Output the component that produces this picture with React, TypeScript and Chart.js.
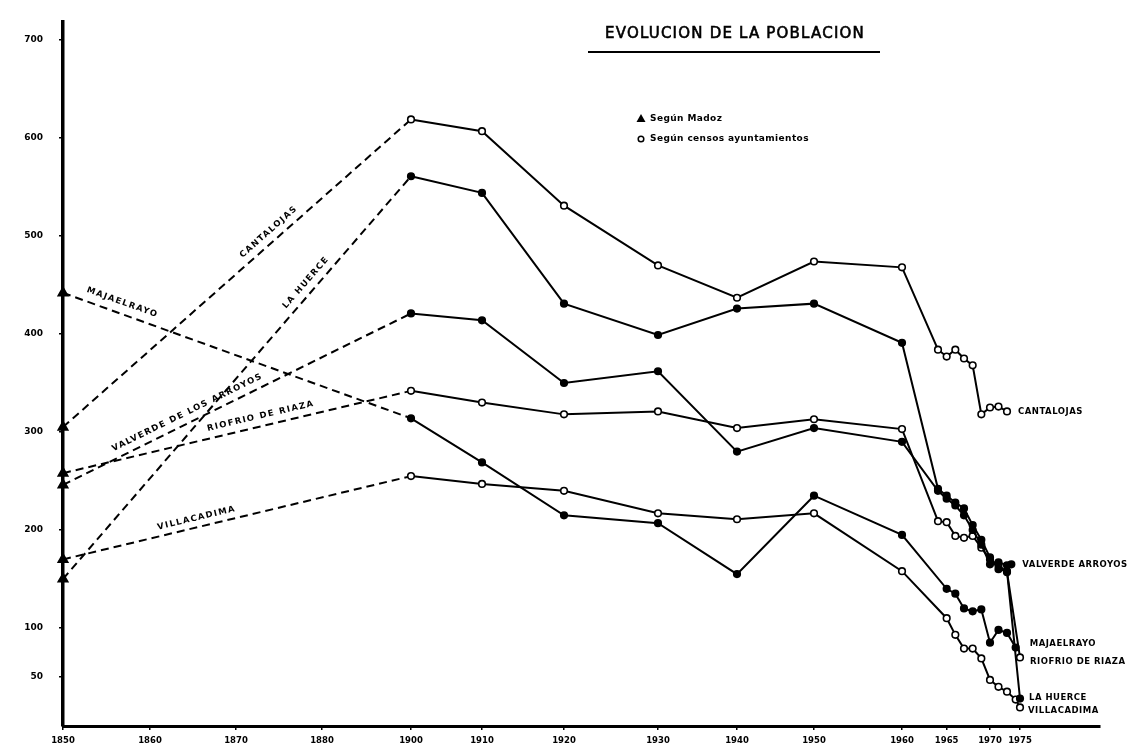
import React, { useEffect, useRef } from 'react';
import { Chart, LinearScale, registerables } from 'chart.js';

Chart.register(...registerables);

// ---------- axis ticks ----------
const X_TICK_YEARS = [1850, 1860, 1870, 1880, 1900, 1910, 1920, 1930, 1940, 1950, 1960, 1965, 1970, 1975];
const Y_TICKS = [50, 100, 200, 300, 400, 500, 600, 700];

// ---------- data (population) ----------
const CANTALOJAS_YEARS = [1850, 1900, 1910, 1920, 1930, 1940, 1950, 1960, 1964, 1965, 1966, 1967, 1968, 1969, 1970, 1971, 1972];
const CANTALOJAS_POP = [305, 619, 607, 531, 470, 437, 474, 468, 384, 377, 384, 375, 368, 318, 325, 326, 321];

const LA_HUERCE_YEARS = [1850, 1900, 1910, 1920, 1930, 1940, 1950, 1960, 1964, 1965, 1966, 1967, 1968, 1969, 1970, 1971, 1972, 1975];
const LA_HUERCE_POP = [150, 561, 544, 431, 399, 426, 431, 391, 242, 235, 228, 222, 205, 190, 172, 160, 158, 28];

const VALVERDE_YEARS = [1850, 1900, 1910, 1920, 1930, 1940, 1950, 1960, 1964, 1965, 1966, 1967, 1968, 1969, 1970, 1971, 1972, 1973];
const VALVERDE_POP = [246, 421, 414, 350, 362, 280, 304, 290, 240, 232, 225, 215, 200, 185, 165, 167, 164, 165];

const RIOFRIO_YEARS = [1850, 1900, 1910, 1920, 1930, 1940, 1950, 1960, 1964, 1965, 1966, 1967, 1968, 1969, 1970, 1971, 1972, 1975];
const RIOFRIO_POP = [258, 342, 330, 318, 321, 304, 313, 303, 209, 208, 194, 192, 194, 182, 170, 164, 157, 70];

const MAJAELRAYO_YEARS = [1850, 1900, 1910, 1920, 1930, 1940, 1950, 1960, 1965, 1966, 1967, 1968, 1969, 1970, 1971, 1972, 1974];
const MAJAELRAYO_POP = [442, 314, 269, 215, 207, 155, 235, 195, 140, 135, 120, 117, 119, 85, 98, 95, 80];

const VILLACADIMA_YEARS = [1850, 1900, 1910, 1920, 1930, 1940, 1950, 1960, 1965, 1966, 1967, 1968, 1969, 1970, 1971, 1972, 1974, 1975];
const VILLACADIMA_POP = [170, 255, 247, 240, 217, 211, 217, 158, 110, 93, 79, 79, 69, 47, 40, 35, 27, 19];

// ---------- hand-drawn (non-uniform) time axis spacing ----------
const WARP_YEARS = [1850, 1860, 1870, 1880, 1900, 1910, 1920, 1930, 1940, 1950, 1960, 1964, 1970, 1972, 1975, 1990];
const WARP_UNITS = [0, 87, 173, 259, 348, 419, 501, 595, 674, 751, 839, 875, 927, 944, 957, 1037];

function interp(v: number, from: number[], to: number[]) {
  const n = from.length;
  let i = 1;
  while (i < n - 1 && v > from[i]) i++;
  const f = (v - from[i - 1]) / (from[i] - from[i - 1]);
  return to[i - 1] + f * (to[i] - to[i - 1]);
}
const TOTAL = WARP_UNITS[WARP_UNITS.length - 1];

class HandYearScale extends (LinearScale as any) {
  static id = 'handYear';
  static defaults = {};
  buildTicks() {
    return X_TICK_YEARS.map((v) => ({ value: v }));
  }
  getPixelForValue(value: number) {
    return (this as any).getPixelForDecimal(interp(value, WARP_YEARS, WARP_UNITS) / TOTAL);
  }
  getValueForPixel(pixel: number) {
    return interp((this as any).getDecimalForPixel(pixel) * TOTAL, WARP_UNITS, WARP_YEARS);
  }
}
Chart.register(HandYearScale as any);

// ---------- series styling ----------
const SERIES = [
  { name: 'CANTALOJAS', years: CANTALOJAS_YEARS, pop: CANTALOJAS_POP, open: true },
  { name: 'LA HUERCE', years: LA_HUERCE_YEARS, pop: LA_HUERCE_POP, open: false },
  { name: 'VALVERDE DE LOS ARROYOS', years: VALVERDE_YEARS, pop: VALVERDE_POP, open: false },
  { name: 'RIOFRIO DE RIAZA', years: RIOFRIO_YEARS, pop: RIOFRIO_POP, open: true },
  { name: 'MAJAELRAYO', years: MAJAELRAYO_YEARS, pop: MAJAELRAYO_POP, open: false },
  { name: 'VILLACADIMA', years: VILLACADIMA_YEARS, pop: VILLACADIMA_POP, open: true },
];

// labels along the dashed (Madoz -> 1900) segments
const DASH_LABELS = [
  { series: 0, text: 'CANTALOJAS', t: 0.61, off: 10 },
  { series: 1, text: 'LA HUERCE', t: 0.72, off: 10 },
  { series: 2, text: 'VALVERDE DE LOS ARROYOS', t: 0.37, off: 10 },
  { series: 3, text: 'RIOFRIO DE RIAZA', t: 0.575, off: 10 },
  { series: 4, text: 'MAJAELRAYO', t: 0.16, off: 11 },
  { series: 5, text: 'VILLACADIMA', t: 0.39, off: 9 },
];

// labels at the end of each line
const END_LABELS = [
  { series: 0, text: 'CANTALOJAS', dx: 11, dy: 0 },
  { series: 2, text: 'VALVERDE ARROYOS', dx: 11, dy: 0 },
  { series: 4, text: 'MAJAELRAYO', dx: 14, dy: -4 },
  { series: 3, text: 'RIOFRIO DE RIAZA', dx: 10, dy: 4 },
  { series: 1, text: 'LA HUERCE', dx: 9, dy: -1 },
  { series: 5, text: 'VILLACADIMA', dx: 8, dy: 3 },
];

const FONT = '"DejaVu Sans", "Liberation Sans", sans-serif';

const annotations = {
  id: 'annotations',
  afterDraw(chart: any) {
    const ctx = chart.ctx as CanvasRenderingContext2D;
    const xs = chart.scales.x;
    const ys = chart.scales.y;
    ctx.save();
    ctx.fillStyle = '#000';
    ctx.strokeStyle = '#000';

    // title
    ctx.font = `15px ${FONT}`;
    (ctx as any).letterSpacing = '1.2px';
    ctx.textAlign = 'center';
    ctx.textBaseline = 'middle';
    ctx.lineWidth = 0.6;
    ctx.fillText('EVOLUCION DE LA POBLACION', 735, 34);
    ctx.strokeText('EVOLUCION DE LA POBLACION', 735, 34);
    ctx.lineWidth = 2.2;
    ctx.beginPath();
    ctx.moveTo(588, 52);
    ctx.lineTo(880, 52);
    ctx.stroke();

    // legend
    (ctx as any).letterSpacing = '0.4px';
    ctx.font = `bold 9px ${FONT}`;
    ctx.textAlign = 'left';
    ctx.beginPath();
    ctx.moveTo(641, 114);
    ctx.lineTo(645.5, 122);
    ctx.lineTo(636.5, 122);
    ctx.closePath();
    ctx.fill();
    ctx.fillText('Según Madoz', 650, 119);
    ctx.lineWidth = 1.5;
    ctx.beginPath();
    ctx.arc(641, 139, 2.8, 0, Math.PI * 2);
    ctx.stroke();
    ctx.fillText('Según censos ayuntamientos', 650, 139);

    // labels along dashed segments
    (ctx as any).letterSpacing = '1.4px';
    ctx.font = `bold 8.5px ${FONT}`;
    ctx.textAlign = 'center';
    DASH_LABELS.forEach((l) => {
      const s = SERIES[l.series];
      const x0 = xs.getPixelForValue(s.years[0]);
      const y0 = ys.getPixelForValue(s.pop[0]);
      const x1 = xs.getPixelForValue(s.years[1]);
      const y1 = ys.getPixelForValue(s.pop[1]);
      const a = Math.atan2(y1 - y0, x1 - x0);
      const cx = x0 + (x1 - x0) * l.t + Math.sin(a) * l.off;
      const cy = y0 + (y1 - y0) * l.t - Math.cos(a) * l.off;
      ctx.save();
      ctx.translate(cx, cy);
      ctx.rotate(a);
      ctx.fillText(l.text, 0, 0);
      ctx.restore();
    });

    // end labels
    (ctx as any).letterSpacing = '0.5px';
    ctx.font = `bold 8.5px ${FONT}`;
    ctx.textAlign = 'left';
    END_LABELS.forEach((l) => {
      const s = SERIES[l.series];
      const n = s.years.length - 1;
      const x = xs.getPixelForValue(s.years[n]) + l.dx;
      const y = ys.getPixelForValue(s.pop[n]) + l.dy;
      ctx.fillText(l.text, x, y);
    });
    ctx.restore();
  },
};

export default function App() {
  const ref = useRef<HTMLCanvasElement>(null);
  useEffect(() => {
    document.body.style.margin = '0';
    const chart = new Chart(ref.current as HTMLCanvasElement, {
      type: 'line',
      data: {
        datasets: SERIES.map((s) => ({
          label: s.name,
          data: s.years.map((x, i) => ({ x, y: s.pop[i] })),
          borderColor: '#000',
          borderWidth: 2,
          tension: 0,
          fill: false,
          clip: false as any,
          pointStyle: s.years.map((_, i) => (i === 0 ? 'triangle' : 'circle')),
          pointRadius: s.years.map((_, i) => (i === 0 ? 5.5 : 3.3)),
          pointBackgroundColor: s.years.map((_, i) => (i === 0 || !s.open ? '#000' : '#fff')),
          pointBorderColor: '#000',
          pointBorderWidth: 1.6,
          segment: {
            borderDash: (c: any) => (c.p0DataIndex === 0 ? [8, 5] : []),
          },
        })),
      } as any,
      options: {
        animation: false,
        responsive: false,
        devicePixelRatio: 1,
        layout: { padding: { left: 8, right: 40, top: 10, bottom: 0 } },
        plugins: {
          legend: { display: false },
          title: { display: false },
          tooltip: { enabled: false },
        },
        scales: {
          x: {
            type: 'handYear' as any,
            min: 1850,
            max: 1990,
            border: { display: true, color: '#000', width: 3 },
            grid: { display: true, drawOnChartArea: false, drawTicks: true, tickLength: 4, color: '#000', lineWidth: 1.5 },
            ticks: {
              autoSkip: false,
              maxRotation: 0,
              padding: 6,
              color: '#000',
              font: { family: FONT, size: 8.5, weight: 'bold' },
              callback: (v: any) => String(v),
            },
            afterFit: (scale: any) => {
              scale.height = 29;
            },
          } as any,
          y: {
            type: 'linear',
            min: 0,
            max: 719,
            border: { display: true, color: '#000', width: 3.5 },
            grid: { display: true, drawOnChartArea: false, drawTicks: true, tickLength: 4, color: '#000', lineWidth: 1.5 },
            ticks: {
              padding: 16,
              color: '#000',
              font: { family: FONT, size: 9, weight: 'bold' },
              callback: (v: any) => String(v),
            },
            afterBuildTicks: (scale: any) => {
              scale.ticks = Y_TICKS.map((v) => ({ value: v }));
            },
            afterFit: (scale: any) => {
              scale.width = 55;
            },
          },
        },
      } as any,
      plugins: [annotations as any],
    });
    return () => chart.destroy();
  }, []);
  return (
    <div style={{ width: 1140, height: 755, background: '#fff' }}>
      <canvas ref={ref} width={1140} height={755} />
    </div>
  );
}
